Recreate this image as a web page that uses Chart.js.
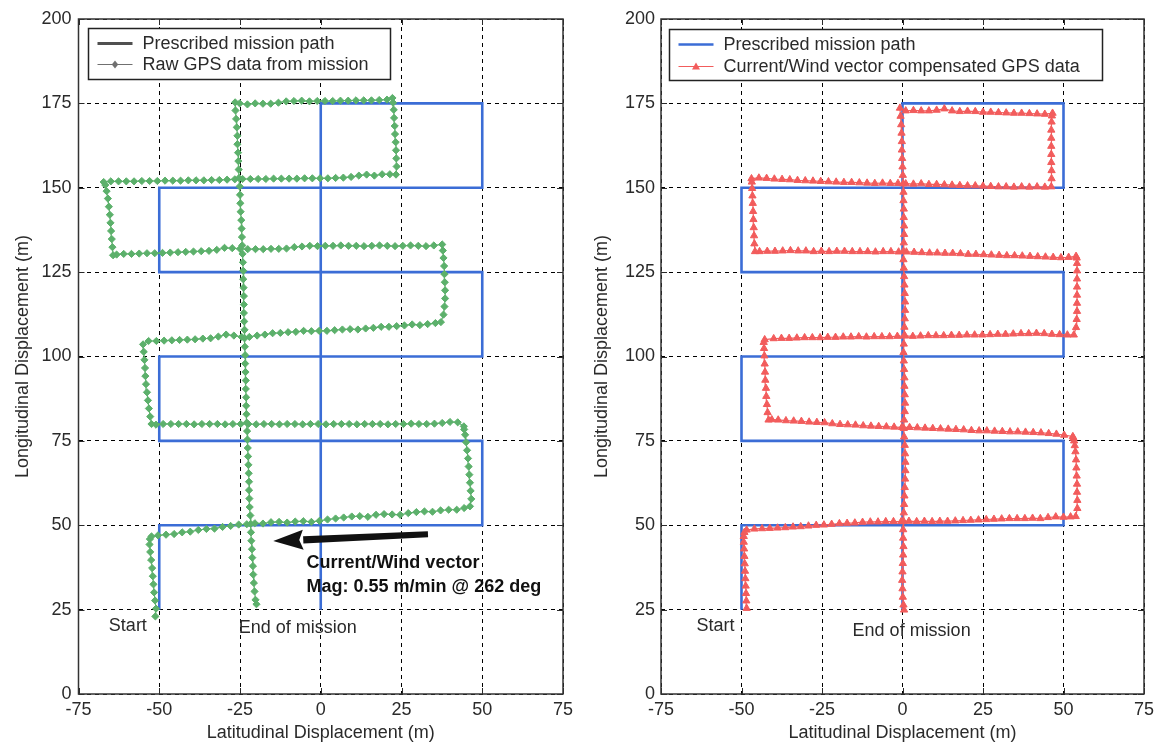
<!DOCTYPE html>
<html>
<head>
<meta charset="utf-8">
<title>Mission path vs GPS track</title>
<script src="https://cdn.jsdelivr.net/npm/chart.js@4.4.1/dist/chart.umd.min.js"></script>
<style>
  html, body { margin: 0; padding: 0; background: #ffffff; }
  #wrap { position: relative; width: 1154px; height: 745px; overflow: hidden; background: #ffffff; }
  canvas { position: absolute; top: 0; }
  #rawChart { left: 0; }
  #compChart { left: 580px; }
</style>
</head>
<body>
<div id="wrap">
  <canvas id="rawChart" width="580" height="745"></canvas>
  <canvas id="compChart" width="580" height="745"></canvas>
</div>
<script>
// ---- tick values (m) ----
const latTicks = [-75, -50, -25, 0, 25, 50, 75];
const lonTicks = [0, 25, 50, 75, 100, 125, 150, 175, 200];

// ---- prescribed lawnmower survey path (vertices) ----
const pathLat = [-50, -50, 50, 50, -50, -50, 50, 50, -50, -50, 50, 50, 0, 0];
const pathLon = [25, 50, 50, 75, 75, 100, 100, 125, 125, 150, 150, 175, 175, 25];

// ---- raw GPS fixes, one sub-array per survey leg ----
const rawLat = [
  [-51.2,-51.0,-51.3,-51.6,-51.8,-52.0,-52.2,-52.5,-52.8,-53.0,-52.9,-52.4],
  [-50.4,-47.9,-45.4,-42.9,-40.4,-37.9,-35.4,-32.9,-30.4,-27.9,-25.4,-22.9,-20.4,-17.9,-15.4,-12.9,-10.4,-7.9,-5.4,-2.9,-0.4,2.1,4.6,7.1,9.6,12.1,14.6,17.1,19.6,22.1,24.6,27.1,29.6,32.1,34.6,37.1,39.6,42.1,44.4,46.2],
  [46.6,46.4,46.2,46.0,45.8,45.6,45.3,45.0,44.7,44.4,44.3],
  [42.4,40.0,37.6,35.2,32.8,30.4,28.0,25.6,23.2,20.8,18.4,16.0,13.6,11.2,8.8,6.4,4.0,1.6,-0.8,-3.2,-5.6,-8.0,-10.4,-12.8,-15.2,-17.6,-20.0,-22.4,-24.8,-27.2,-29.6,-32.0,-34.4,-36.8,-39.2,-41.6,-44.0,-46.4,-48.8,-51.0,-52.4],
  [-52.8,-53.2,-53.5,-53.8,-54.1,-54.3,-54.4,-54.6,-54.8,-55.0],
  [-53.3,-50.9,-48.5,-46.1,-43.7,-41.3,-38.9,-36.5,-34.1,-31.7,-29.3,-26.9,-24.5,-22.1,-19.7,-17.3,-14.9,-12.5,-10.1,-7.7,-5.3,-2.9,-0.5,1.9,4.3,6.7,9.1,11.5,13.9,16.3,18.7,21.1,23.5,25.9,28.3,30.7,33.1,35.5,37.2],
  [38.0,38.3,38.5,38.5,38.4,38.3,38.2,38.0,37.8,37.6],
  [35.0,32.6,30.2,27.8,25.4,23.0,20.6,18.2,15.8,13.4,11.0,8.6,6.2,3.8,1.4,-1.0,-3.4,-5.8,-8.2,-10.6,-13.0,-15.4,-17.8,-20.2,-22.6,-25.0,-27.4,-29.8,-32.2,-34.6,-37.0,-39.4,-41.8,-44.2,-46.6,-49.0,-51.4,-53.8,-56.2,-58.6,-61.0,-63.2,-64.3],
  [-64.5,-64.7,-64.9,-65.1,-65.3,-65.6,-65.9,-66.3,-66.7,-67.2],
  [-65.0,-62.6,-60.2,-57.8,-55.4,-53.0,-50.6,-48.2,-45.8,-43.4,-41.0,-38.6,-36.2,-33.8,-31.4,-29.0,-26.6,-24.2,-21.8,-19.4,-17.0,-14.6,-12.2,-9.8,-7.4,-5.0,-2.6,-0.2,2.2,4.6,7.0,9.4,11.8,14.2,16.6,19.0,21.4,23.3],
  [23.5,23.4,23.3,23.2,23.0,22.9,22.7,22.6,22.4,22.2],
  [20.5,18.1,15.7,13.3,10.9,8.5,6.1,3.7,1.3,-1.1,-3.5,-5.9,-8.3,-10.7,-13.1,-15.5,-17.9,-20.3,-22.7,-25.1,-26.5],
  [-26.4,-26.2,-26.0,-25.8,-25.8,-25.6,-25.5,-25.4,-25.3,-25.1,-25.0,-24.9,-24.8,-24.6,-24.5,-24.4,-24.3,-24.2,-24.1,-24.0,-24.0,-23.9,-23.8,-23.8,-23.8,-23.7,-23.6,-23.6,-23.5,-23.4,-23.4,-23.3,-23.2,-23.2,-23.1,-23.1,-23.0,-22.9,-22.8,-22.7,-22.6,-22.5,-22.4,-22.3,-22.2,-22.2,-22.1,-22.0,-21.8,-21.7,-21.6,-21.5,-21.3,-21.2,-21.0,-20.9,-20.7,-20.5,-20.2,-19.9]
];
const rawLon = [
  [23.0,25.3,27.7,30.1,32.5,34.9,37.3,39.7,42.1,44.3,45.9,46.7],
  [47.0,47.2,47.4,47.9,48.1,48.6,48.9,49.0,49.5,49.8,50.2,50.3,50.6,50.5,50.9,51.0,50.8,51.1,51.2,51.0,51.3,51.7,52.0,52.3,52.6,52.7,52.5,53.1,53.3,53.2,53.1,53.6,53.9,54.1,54.0,54.4,54.6,54.6,55.1,55.6],
  [57.8,60.2,62.6,65.0,67.4,69.8,72.2,74.6,76.8,78.4,79.3],
  [80.5,80.6,80.3,80.1,80.0,80.0,80.1,80.0,80.0,79.9,80.0,80.0,80.0,79.9,80.0,80.0,80.0,79.9,80.0,80.0,79.9,80.0,80.0,79.9,80.0,80.0,79.9,80.0,80.0,80.0,79.9,80.0,80.0,80.0,79.9,80.0,80.0,80.0,80.0,79.8,80.0],
  [82.2,84.6,87.0,89.4,91.8,94.2,96.6,99.0,101.4,103.6],
  [104.6,104.6,104.7,104.8,104.9,105.0,105.1,105.3,105.4,105.9,106.5,106.2,105.8,105.8,106.2,106.5,106.9,107.0,107.2,107.3,107.6,107.5,107.6,107.6,107.8,108.0,108.1,108.0,108.3,108.5,108.8,108.8,109.0,109.2,109.5,109.3,109.6,109.9,110.2],
  [112.4,114.8,117.2,119.6,122.0,124.4,126.8,129.2,131.4,133.2],
  [132.9,132.7,132.8,132.9,132.8,132.7,132.8,132.9,132.8,132.7,132.8,132.8,132.9,132.8,132.8,132.7,132.8,132.6,132.4,132.0,131.9,131.9,131.8,131.8,131.8,131.9,132.1,132.2,131.6,131.3,131.2,131.1,131.0,130.9,130.8,130.7,130.6,130.6,130.5,130.4,130.4,130.2,130.0],
  [132.4,134.8,137.2,139.6,142.0,144.4,146.8,149.0,150.8,151.7],
  [151.9,151.9,151.9,151.9,152.0,152.0,152.0,152.1,152.1,152.1,152.2,152.2,152.2,152.3,152.3,152.4,152.5,152.6,152.6,152.6,152.6,152.7,152.7,152.7,152.7,152.8,152.8,152.8,152.8,152.9,153.0,153.2,153.6,153.9,153.6,154.0,154.0,153.9],
  [156.3,158.7,161.1,163.5,165.9,168.3,170.7,173.1,175.2,176.6],
  [176.1,176.0,175.9,175.9,175.9,175.8,175.8,175.7,175.7,175.7,175.6,175.8,175.7,175.6,175.2,174.9,174.9,175.0,174.7,175.0,175.3],
  [172.9,170.4,167.9,165.4,162.9,160.4,157.9,155.4,152.9,150.4,147.9,145.4,142.9,140.4,137.9,135.4,132.9,130.4,127.9,125.4,122.9,120.4,117.9,115.4,112.9,110.4,107.9,105.4,102.9,100.4,97.9,95.4,92.9,90.4,87.9,85.4,82.9,80.4,77.9,75.4,72.9,70.4,67.9,65.4,62.9,60.4,57.9,55.4,52.9,50.4,47.9,45.4,42.9,40.4,37.9,35.4,32.9,30.4,27.9,26.6]
];

// ---- current/wind compensated GPS fixes, one sub-array per leg ----
const compLat = [
  [-48.4,-48.5,-48.6,-48.7,-48.8,-48.9,-49.0,-49.1,-49.2,-49.3,-49.3,-49.1,-48.4],
  [-46.0,-43.6,-41.2,-38.8,-36.4,-34.0,-31.6,-29.2,-26.8,-24.4,-22.0,-19.6,-17.2,-14.8,-12.4,-10.0,-7.6,-5.2,-2.8,-0.4,2.0,4.4,6.8,9.2,11.6,14.0,16.4,18.8,21.2,23.6,26.0,28.4,30.8,33.2,35.6,38.0,40.4,42.8,45.2,47.6,50.0,52.2,53.8],
  [54.3,54.3,54.2,54.2,54.1,54.0,53.9,53.7,53.5,53.3,53.1,52.9],
  [50.2,47.8,45.4,43.0,40.6,38.2,35.8,33.4,31.0,28.6,26.2,23.8,21.4,19.0,16.6,14.2,11.8,9.4,7.0,4.6,2.2,-0.2,-2.6,-5.0,-7.4,-9.8,-12.2,-14.6,-17.0,-19.4,-21.8,-24.2,-26.6,-29.0,-31.4,-33.8,-36.2,-38.6,-40.6,-41.6],
  [-41.9,-42.1,-42.3,-42.4,-42.6,-42.7,-42.8,-42.9,-43.0,-43.1,-42.8],
  [-40.0,-37.6,-35.2,-32.8,-30.4,-28.0,-25.6,-23.2,-20.8,-18.4,-16.0,-13.6,-11.2,-8.8,-6.4,-4.0,-1.6,0.8,3.2,5.6,8.0,10.4,12.8,15.2,17.6,20.0,22.4,24.8,27.2,29.6,32.0,34.4,36.8,39.2,41.6,44.0,46.4,48.8,51.2,53.2],
  [53.9,54.1,54.2,54.2,54.2,54.2,54.2,54.2,54.2,54.1,53.9],
  [51.6,49.2,46.8,44.4,42.0,39.6,37.2,34.8,32.4,30.0,27.6,25.2,22.8,20.4,18.0,15.6,13.2,10.8,8.4,6.0,3.6,1.2,-1.2,-3.6,-6.0,-8.4,-10.8,-13.2,-15.6,-18.0,-20.4,-22.8,-25.2,-27.6,-30.0,-32.4,-34.8,-37.2,-39.6,-42.0,-44.4,-45.8],
  [-46.0,-46.1,-46.2,-46.3,-46.4,-46.5,-46.6,-46.7,-46.8,-46.9],
  [-44.6,-42.2,-39.8,-37.4,-35.0,-32.6,-30.2,-27.8,-25.4,-23.0,-20.6,-18.2,-15.8,-13.4,-11.0,-8.6,-6.2,-3.8,-1.4,1.0,3.4,5.8,8.2,10.6,13.0,15.4,17.8,20.2,22.6,25.0,27.4,29.8,32.2,34.6,37.0,39.4,41.8,44.2,46.2],
  [46.3,46.3,46.2,46.2,46.2,46.2,46.2,46.3,46.4,46.6],
  [44.2,41.8,39.4,37.0,34.6,32.2,29.8,27.4,25.0,22.6,20.2,17.8,15.4,13.0,10.6,8.2,5.8,3.4,1.0,-0.8],
  [-0.6,-0.4,-0.3,-0.2,-0.2,-0.1,0.0,0.1,0.2,0.3,0.3,0.4,0.4,0.5,0.5,0.4,0.3,0.3,0.4,0.5,0.6,0.7,0.8,0.8,0.7,0.6,0.5,0.4,0.3,0.4,0.5,0.6,0.6,0.7,0.8,0.7,0.5,0.4,0.5,0.7,0.8,0.9,0.9,0.8,0.7,0.6,0.5,0.4,0.3,0.2,0.2,0.3,0.2,0.1,0.0,-0.1,0.0,0.1,0.3,0.5]
];
const compLon = [
  [25.4,27.6,29.8,32.0,34.2,36.4,38.6,40.8,43.0,45.0,46.7,47.9,48.6],
  [48.9,49.0,49.1,49.2,49.3,49.5,49.6,49.8,50.0,50.1,50.3,50.5,50.6,50.7,50.9,51.0,51.0,51.1,51.1,51.1,51.2,51.1,51.2,51.1,51.2,51.2,51.3,51.4,51.5,51.6,51.7,51.8,51.9,52.0,52.0,52.0,52.1,52.0,52.3,52.5,52.4,52.5,52.6],
  [55.0,57.4,59.8,62.2,64.6,67.0,69.4,71.8,73.6,75.0,75.8,76.3],
  [76.7,77.0,77.2,77.4,77.5,77.6,77.7,77.7,77.8,77.9,78.0,78.0,78.1,78.3,78.4,78.5,78.6,78.7,78.8,78.9,79.0,79.0,79.1,79.2,79.3,79.4,79.5,79.7,79.8,79.9,80.1,80.4,80.5,80.6,80.8,80.9,81.0,81.2,81.3,81.2],
  [83.4,85.8,88.2,90.6,93.0,95.4,97.8,100.2,102.4,104.2,105.0],
  [105.3,105.4,105.4,105.5,105.6,105.6,105.6,105.7,105.7,105.8,105.8,105.9,105.8,105.9,105.9,105.9,106.0,106.1,106.0,106.1,106.2,106.2,106.2,106.3,106.3,106.4,106.4,106.4,106.5,106.6,106.6,106.7,106.8,106.8,106.9,106.8,106.6,106.5,106.4,106.4],
  [108.6,111.0,113.4,115.8,118.2,120.6,123.0,125.4,127.6,129.2,129.7],
  [129.4,129.3,129.4,129.5,129.6,129.7,129.8,129.9,129.9,130.0,130.1,130.2,130.3,130.3,130.5,130.6,130.6,130.7,130.7,130.8,130.9,131.0,131.0,131.1,131.1,131.0,131.1,131.1,131.1,131.2,131.2,131.1,131.2,131.1,131.3,131.3,131.4,131.3,131.2,131.2,131.1,131.1],
  [133.4,135.8,138.2,140.6,143.0,145.4,147.6,149.8,151.7,152.7],
  [152.9,152.8,152.6,152.5,152.4,152.2,152.1,152.0,151.9,151.8,151.7,151.6,151.6,151.5,151.4,151.3,151.4,151.3,151.3,151.2,151.1,151.2,151.0,151.0,150.9,150.8,150.7,150.6,150.6,150.5,150.4,150.3,150.3,150.2,150.3,150.2,150.3,150.2,150.3],
  [152.7,155.1,157.5,159.9,162.3,164.7,167.1,169.5,171.3,172.1],
  [171.8,171.9,172.0,172.1,172.1,172.2,172.3,172.4,172.4,172.6,172.7,172.6,172.8,173.4,173.0,172.8,172.8,172.9,172.8,173.6],
  [171.2,168.7,166.2,163.7,161.2,158.7,156.2,153.7,151.2,148.7,146.2,143.7,141.2,138.7,136.2,133.7,131.2,128.7,126.2,123.7,121.2,118.7,116.2,113.7,111.2,108.7,106.2,103.7,101.2,98.7,96.2,93.7,91.2,88.7,86.2,83.7,81.2,78.7,76.2,73.7,71.2,68.7,66.2,63.7,61.2,58.7,56.2,53.7,51.2,48.7,46.2,43.7,41.2,38.7,36.2,33.7,31.2,28.7,26.4,24.9]
];

// ---- styling ----
const FONT = "'Liberation Sans', Arial, Helvetica, sans-serif";
const BLUE = '#3b6dd6';
const GREEN = '#5cb06b';
const RED = '#f25c5c';
const INK = '#2a2a2a';

Chart.defaults.font.family = FONT;
Chart.defaults.font.size = 18;
Chart.defaults.color = INK;

function zipLegs(latLegs, lonLegs) {
  const pts = [];
  latLegs.forEach((leg, i) => {
    const lon = lonLegs[i];
    const n = Math.min(leg.length, lon.length);
    for (let k = 0; k < n; k++) pts.push({ x: leg[k], y: lon[k] });
  });
  return pts;
}
const prescribed = pathLat.map((v, i) => ({ x: v, y: pathLon[i] }));

function markerPath(ctx, kind, x, y, r) {
  ctx.beginPath();
  if (kind === 'diamond') {
    ctx.moveTo(x, y - r); ctx.lineTo(x + r * 0.8, y); ctx.lineTo(x, y + r); ctx.lineTo(x - r * 0.8, y);
  } else {
    ctx.moveTo(x, y - r); ctx.lineTo(x + r, y + r * 0.75); ctx.lineTo(x - r, y + r * 0.75);
  }
  ctx.closePath();
}

// MATLAB-style box, inward ticks, legend, text notes and arrow
const matlabAxes = {
  id: 'matlabAxes',
  afterDatasetsDraw(chart, args, opts) {
    const { ctx, chartArea: a, scales: { x, y } } = chart;
    ctx.save();

    // inward tick marks on all four sides
    ctx.strokeStyle = INK; ctx.lineWidth = 1; ctx.setLineDash([]);
    ctx.beginPath();
    x.ticks.forEach(t => {
      const px = Math.round(x.getPixelForValue(t.value)) + 0.5;
      ctx.moveTo(px, a.bottom); ctx.lineTo(px, a.bottom - 6);
      ctx.moveTo(px, a.top); ctx.lineTo(px, a.top + 6);
    });
    y.ticks.forEach(t => {
      const py = Math.round(y.getPixelForValue(t.value)) + 0.5;
      ctx.moveTo(a.left, py); ctx.lineTo(a.left + 6, py);
      ctx.moveTo(a.right, py); ctx.lineTo(a.right - 6, py);
    });
    ctx.stroke();

    // axes box
    ctx.lineWidth = 1.5;
    ctx.strokeStyle = '#333';
    ctx.strokeRect(a.left, a.top, a.right - a.left, a.bottom - a.top);

    // arrow (tail/tip in data units)
    if (opts.arrow) {
      const tx = x.getPixelForValue(opts.arrow.from[0]), ty = y.getPixelForValue(opts.arrow.from[1]);
      const hx = x.getPixelForValue(opts.arrow.to[0]), hy = y.getPixelForValue(opts.arrow.to[1]);
      const len = Math.hypot(hx - tx, hy - ty);
      const dx = (hx - tx) / len, dy = (hy - ty) / len;
      const nx = -dy, ny = dx;
      const bx = hx - dx * 30, by = hy - dy * 30;
      ctx.fillStyle = '#111';
      ctx.beginPath();
      ctx.moveTo(tx + nx * 3, ty + ny * 3);
      ctx.lineTo(bx + nx * 3.6, by + ny * 3.6);
      ctx.lineTo(bx - nx * 3.6, by - ny * 3.6);
      ctx.lineTo(tx - nx * 3, ty - ny * 3);
      ctx.closePath(); ctx.fill();
      ctx.beginPath();
      ctx.moveTo(hx, hy);
      ctx.lineTo(bx + nx * 10, by + ny * 10);
      ctx.lineTo(bx + dx * 4, by + dy * 4);
      ctx.lineTo(bx - nx * 10, by - ny * 10);
      ctx.closePath(); ctx.fill();
    }

    // text notes (anchored at data coordinates)
    (opts.notes || []).forEach(n => {
      ctx.font = (n.bold ? 'bold ' : '') + '18px ' + FONT;
      ctx.fillStyle = n.bold ? '#111' : INK;
      ctx.textAlign = 'left'; ctx.textBaseline = 'middle';
      ctx.fillText(n.text, x.getPixelForValue(n.at[0]), y.getPixelForValue(n.at[1]));
    });

    // legend box
    const L = opts.legend;
    if (L) {
      const bx = Math.round(a.left + L.dx) + 0.5, by = Math.round(a.top + L.dy) + 0.5;
      ctx.fillStyle = '#fff';
      ctx.fillRect(bx, by, L.w, L.h);
      ctx.strokeStyle = '#222'; ctx.lineWidth = 1.5;
      ctx.strokeRect(bx, by, L.w, L.h);
      L.rows.forEach(r => {
        const ry = by + r.dy;
        ctx.strokeStyle = r.color; ctx.lineWidth = r.width;
        ctx.beginPath(); ctx.moveTo(bx + 9, ry); ctx.lineTo(bx + 44, ry); ctx.stroke();
        if (r.marker) {
          ctx.fillStyle = r.color;
          markerPath(ctx, r.marker, bx + 26.5, ry, 4);
          ctx.fill();
        }
        ctx.font = '18px ' + FONT;
        ctx.fillStyle = INK; ctx.textAlign = 'left'; ctx.textBaseline = 'middle';
        ctx.fillText(r.text, bx + 54, ry + 1);
      });
    }
    ctx.restore();
  }
};

function scaleOpts(yTitlePad, yTickPad) {
  return {
    x: {
      type: 'linear', min: -75, max: 75,
      afterBuildTicks: s => { s.ticks = latTicks.map(v => ({ value: v })); },
      afterFit: s => { s.height = 51; },
      grid: { color: '#000', lineWidth: 1, drawTicks: false },
      border: { display: false, dash: [4, 4] },
      ticks: { padding: 5, autoSkip: false, maxRotation: 0, color: INK, font: { size: 18 } },
      title: { display: true, text: 'Latitudinal Displacement (m)', color: INK,
               font: { size: 18, lineHeight: 1.2 }, padding: { top: 0, bottom: 1 } }
    },
    y: {
      type: 'linear', min: 0, max: 200,
      afterBuildTicks: s => { s.ticks = lonTicks.map(v => ({ value: v })); },
      afterFit: s => { s.width = s.chart.options.plugins.matlabAxes.yAxisWidth; },
      grid: { color: '#000', lineWidth: 1, drawTicks: false },
      border: { display: false, dash: [4, 4] },
      ticks: { padding: yTickPad, autoSkip: false, color: INK, font: { size: 18 } },
      title: { display: true, text: 'Longitudinal Displacement (m)', color: INK,
               font: { size: 18, lineHeight: 1.2 }, padding: { top: yTitlePad, bottom: 0 } }
    }
  };
}

function buildChart(id, cfg) {
  return new Chart(document.getElementById(id), {
    type: 'scatter',
    data: {
      datasets: [
        { label: cfg.trackLabel, data: cfg.track, showLine: true, tension: 0,
          borderColor: cfg.color, backgroundColor: cfg.color, borderWidth: 1.2,
          pointStyle: cfg.pointStyle, pointRadius: cfg.pointRadius,
          pointBorderWidth: 1, pointBorderColor: cfg.color, order: 0 },
        { label: 'Prescribed mission path', data: prescribed, showLine: true, tension: 0,
          borderColor: BLUE, borderWidth: 2.6, pointRadius: 0, order: 1 }
      ]
    },
    options: {
      responsive: false, animation: false, events: [],
      layout: { padding: cfg.padding },
      plugins: {
        legend: { display: false }, tooltip: { enabled: false },
        matlabAxes: cfg.decor
      },
      scales: scaleOpts(cfg.yTitlePad, cfg.yTickPad)
    },
    plugins: [matlabAxes]
  });
}

buildChart('rawChart', {
  track: zipLegs(rawLat, rawLon),
  trackLabel: 'Raw GPS data from mission',
  color: GREEN, pointStyle: 'rectRot', pointRadius: 3.6,
  padding: { top: 19, right: 17, bottom: 0, left: 0 },
  yTitlePad: 12, yTickPad: 7,
  decor: {
    yAxisWidth: 78.5,
    legend: { dx: 9, dy: 9, w: 302, h: 51, rows: [
      { text: 'Prescribed mission path', color: '#505050', width: 3 },
      { text: 'Raw GPS data from mission', color: '#707070', width: 1, marker: 'diamond' }
    ].map((r, i) => Object.assign(r, { dy: i ? 36 : 15 })) },
    notes: [
      { text: 'Start', at: [-65.6, 20.1] },
      { text: 'End of mission', at: [-25.4, 19.6] },
      { text: 'Current/Wind vector', at: [-4.4, 38.8], bold: true },
      { text: 'Mag: 0.55 m/min @ 262 deg', at: [-4.4, 31.8], bold: true }
    ],
    arrow: { from: [33.2, 47.3], to: [-14.7, 45.3] }
  }
});

buildChart('compChart', {
  track: zipLegs(compLat, compLon),
  trackLabel: 'Current/Wind vector compensated GPS data',
  color: RED, pointStyle: 'triangle', pointRadius: 4.2,
  padding: { top: 19, right: 16, bottom: 0, left: 0 },
  yTitlePad: 11, yTickPad: 6,
  decor: {
    yAxisWidth: 81,
    legend: { dx: 8, dy: 10, w: 433, h: 51, rows: [
      { text: 'Prescribed mission path', color: BLUE, width: 2.6 },
      { text: 'Current/Wind vector compensated GPS data', color: RED, width: 1.2, marker: 'triangle' }
    ].map((r, i) => Object.assign(r, { dy: i ? 37 : 15 })) },
    notes: [
      { text: 'Start', at: [-64.0, 20.1] },
      { text: 'End of mission', at: [-15.5, 18.7] }
    ]
  }
});
</script>
</body>
</html>
